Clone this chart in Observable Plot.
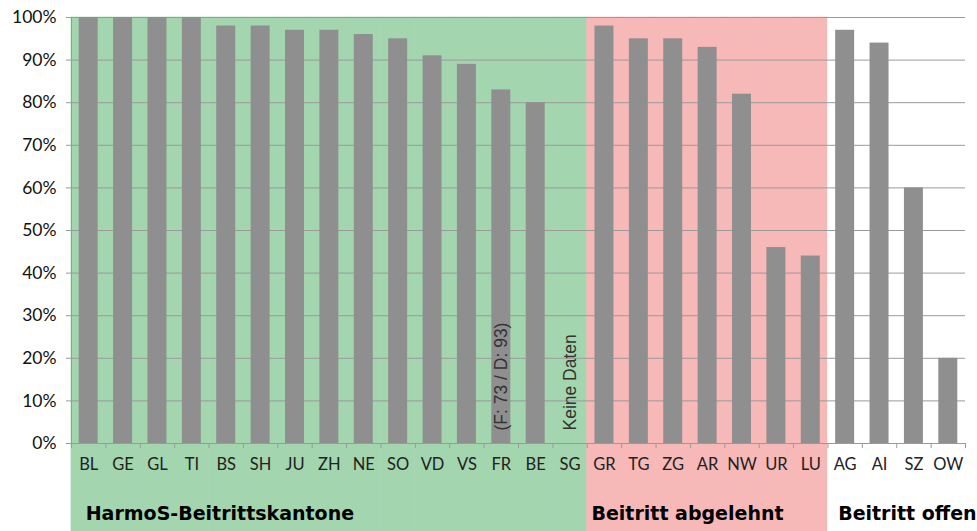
<!DOCTYPE html>
<html>
<head>
<meta charset="utf-8">
<script src="https://cdn.jsdelivr.net/npm/d3@7"></script>
<script src="https://cdn.jsdelivr.net/npm/@observablehq/plot@0.6"></script>
<style>
  html, body { margin: 0; padding: 0; background: #fff; }
  svg { overflow: visible; }
</style>
</head>
<body>
<div id="chart"></div>
<script>
const cantons = ["BL","GE","GL","TI","BS","SH","JU","ZH","NE","SO","VD","VS","FR","BE","SG","GR","TG","ZG","AR","NW","UR","LU","AG","AI","SZ","OW"];
const shares  = [100,100,100,100,98,98,97,97,96,95,91,89,83,80,null,98,95,95,93,82,46,44,97,94,60,20];
const groupOf = ["harmos","harmos","harmos","harmos","harmos","harmos","harmos","harmos","harmos","harmos","harmos","harmos","harmos","harmos","harmos",
                 "rejected","rejected","rejected","rejected","rejected","rejected","rejected",
                 "open","open","open","open"];
const groupNames = {harmos: "HarmoS-Beitrittskantone", rejected: "Beitritt abgelehnt", open: "Beitritt offen"};
const groupColors = {harmos: "#a3d5af", rejected: "#f7b8b8", open: "#ffffff"};
const notes = [{canton: "FR", text: "(F: 73 / D: 93)"}, {canton: "SG", text: "Keine Daten"}];
const yTicks = [0,10,20,30,40,50,60,70,80,90,100];

const rows = cantons.map((c, i) => ({canton: c, value: shares[i], group: groupOf[i]}));
const groupFirst = Object.keys(groupNames).map(g => ({group: g, canton: rows.find(r => r.group === g).canton, name: groupNames[g]}));

const W = 977, H = 531, mL = 71, mR = 12, mT = 17, mB = 88;
const step = (W - mL - mR) / cantons.length;
const labelShift = {harmos: -3, rejected: -13, open: -7};

const chart = Plot.plot({
  width: W, height: H,
  marginLeft: mL, marginRight: mR, marginTop: mT, marginBottom: mB,
  style: {fontFamily: "Lato, 'Open Sans', sans-serif", fontSize: "16px", color: "#222", background: "#fff"},
  x: {domain: cantons, padding: 0, round: false, axis: null, label: null},
  y: {domain: [0, 100], axis: null, label: null},
  marks: [
    Plot.barY(rows, {x: "canton", y1: 0, y2: 100, fill: d => groupColors[d.group], stroke: d => groupColors[d.group], strokeWidth: 0.6, insetBottom: -mB}),
    Plot.ruleY(yTicks, {y: d => d, stroke: "#9a9a9a", strokeWidth: 1, insetLeft: -5}),
    Plot.barY(rows.filter(d => d.value != null), {x: "canton", y: "value", fill: "#8f8f8f", insetLeft: 7.7, insetRight: 7.7}),
    Plot.ruleY([0], {stroke: "#9a9a9a", strokeWidth: 1}),
    Plot.ruleX([cantons[0]], {y1: 0, y2: 100, dx: -step / 2, stroke: "#9a9a9a", strokeWidth: 1}),
    Plot.ruleX(cantons, {y1: 0, y2: 0, insetBottom: -5, dx: -step / 2, stroke: "#9a9a9a", strokeWidth: 1}),
    Plot.ruleX([cantons[cantons.length - 1]], {y1: 0, y2: 0, insetBottom: -5, dx: step / 2, stroke: "#9a9a9a", strokeWidth: 1}),
    Plot.axisY({ticks: yTicks, tickFormat: d => d + "%", tickSize: 0, tickPadding: 15, fontSize: 17.5, fill: "#111", anchor: "left", label: null}),
    Plot.axisX({tickSize: 0, tickPadding: 15, fontSize: 16.5, fill: "#222", anchor: "bottom", label: null}),
    Plot.text(notes, {x: "canton", y: 0, text: "text", rotate: -90, textAnchor: "start", dy: -13, fontFamily: "'Liberation Sans', Arial, sans-serif", fontSize: 17.5, fill: "#333"}),
    ...groupFirst.map(g => Plot.text([g], {x: "canton", y: 0, text: "name", textAnchor: "start", dx: labelShift[g.group], dy: 70,
      fontFamily: "'DejaVu Sans', 'Liberation Sans', sans-serif", fontWeight: "bold", fontSize: 19, fill: "#000"}))
  ]
});
document.getElementById("chart").appendChild(chart);
</script>
</body>
</html>
